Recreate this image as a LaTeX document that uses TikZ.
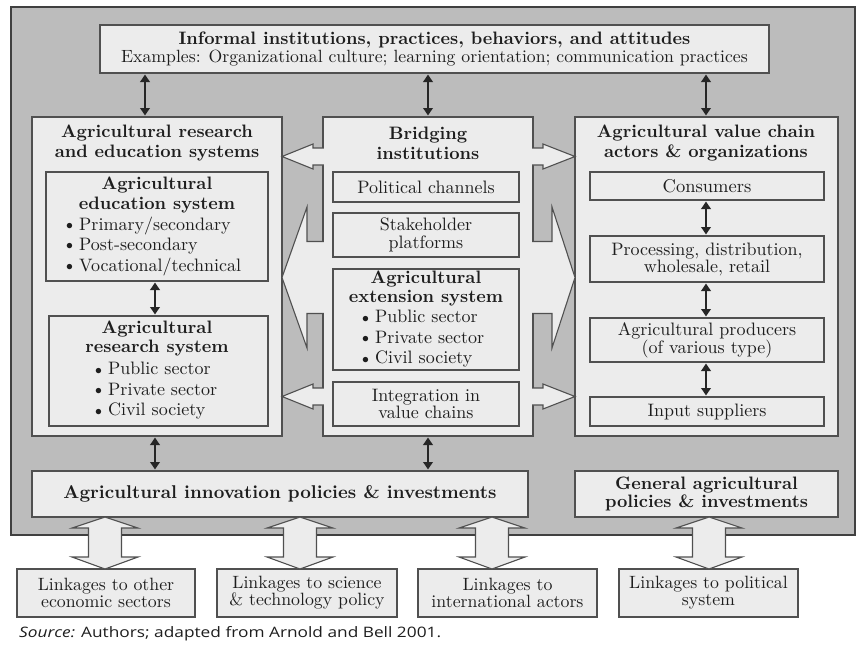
\documentclass[tikz,border=0pt]{standalone}
\usepackage{fontspec}
\setmainfont{lmroman10-regular}[Extension=.otf, BoldFont=lmroman10-bold, ItalicFont=lmroman10-italic, BoldItalicFont=lmroman10-bolditalic]
\newfontfamily\capfont{Open Sans}[FakeStretch=1.2]
\usetikzlibrary{arrows.meta,calc}
\definecolor{bgc}{HTML}{BCBCBC}
\definecolor{boxc}{HTML}{ECECEC}
\definecolor{edgec}{HTML}{505050}
\definecolor{txtc}{HTML}{1E1E1E}
\newcommand\fs[2]{\fontsize{#1}{#2}\selectfont}
\newcommand\bul{\raisebox{0.1ex}{\scalebox{0.8}{$\bullet$}}\hspace{0.35em}}
\tikzset{
  bx/.style={draw=edgec, fill=boxc, line width=1.1pt, inner sep=0pt, outer sep=0pt},
  txt/.style={inner sep=0pt, outer sep=0pt, align=center, text=txtc},
  hol/.style={draw=edgec, fill=boxc, line width=1.1pt, line join=miter},
  dbl/.style={line width=2.2pt, draw=black!85, {Triangle[length=7.5pt,width=9.5pt]}-{Triangle[length=7.5pt,width=9.5pt]}, shorten <=1.5pt, shorten >=1.5pt},
}
% plain box: name, x1, y1, x2, y2
\newcommand\abox[5]{\node[bx, anchor=north west, minimum width={#4-#2}, minimum height={#5-#3}] (#1) at (#2,#3) {};}
% box with text: name, x1, y1, x2, y2, font, text
\newcommand\tbox[7]{\node[bx, align=center, text=txtc, font=#6, minimum width={#4-#2}, minimum height={#5-#3}] (#1) at ({(#2+#4)/2},{(#3+#5)/2}) {#7};}
% left-pointing hollow arrow from M to L at height #1
\newcommand\hollowL[1]{%
  \coordinate (hs) at (M.west |- 0,#1);
  \coordinate (ht) at (L.east |- 0,#1);
  \filldraw[hol] ($(hs)+(0.8,-8.5)$) -- ($(ht)+(31,-8.5)$) -- ($(ht)+(31,-12.5)$) -- (ht) -- ($(ht)+(31,12.5)$) -- ($(ht)+(31,8.5)$) -- ($(hs)+(0.8,8.5)$);}
\newcommand\hollowR[1]{%
  \coordinate (hs) at (M.east |- 0,#1);
  \coordinate (ht) at (RC.west |- 0,#1);
  \filldraw[hol] ($(hs)+(-0.8,-8.5)$) -- ($(ht)+(-32,-8.5)$) -- ($(ht)+(-32,-12.5)$) -- (ht) -- ($(ht)+(-32,12.5)$) -- ($(ht)+(-32,8.5)$) -- ($(hs)+(-0.8,8.5)$);}
% vertical hollow double arrow: top node, bottom node, x
\newcommand\hollowV[3]{%
  \coordinate (vt) at (#1.south -| #3,0);
  \coordinate (vb) at (#2.north -| #3,0);
  \filldraw[hol] (vt) -- ($(vt)+(33,11)$) -- ($(vt)+(16.5,11)$) -- ($(vb)+(16.5,-12)$) -- ($(vb)+(33,-12)$) -- (vb) -- ($(vb)+(-33,-12)$) -- ($(vb)+(-16.5,-12)$) -- ($(vt)+(-16.5,11)$) -- ($(vt)+(-33,11)$) -- cycle;}
\begin{document}
\begin{tikzpicture}[x=1pt,y=-1pt]
\useasboundingbox (0,0) rectangle (857,645);
\fill[white] (0,0) rectangle (857,645);
\draw[fill=bgc, draw=black!75, line width=1.6pt] (11,7) rectangle (855,535);

% top box
\tbox{T}{100}{25}{769}{73}{\fs{18}{18}}{\textbf{Informal institutions, practices, behaviors, and attitudes}\\{\fs{17.7}{18}Examples: Organizational culture; learning orientation; communication practices}}

% left column
\abox{L}{32}{117}{282}{436}
\node[txt, font=\bfseries\fs{18}{20}] (Lt) at (157,143) {Agricultural research\\and education systems};
\abox{E}{46}{172}{268}{281}
\node[txt, font=\bfseries\fs{18}{20}] (Et) at (157,195) {Agricultural\\education system};
\node[txt, align=left, anchor=west, font=\fs{18}{20.5}] (Eb) at (66,246) {\bul Primary/secondary\\\bul Post-secondary\\\bul Vocational/technical};
\abox{R}{49}{316}{268}{426}
\node[txt, font=\bfseries\fs{18}{19}] (Rt) at (157,338.5) {Agricultural\\research system};
\node[txt, align=left, anchor=west, font=\fs{18}{20.5}] (Rb) at (95,391) {\bul Public sector\\\bul Private sector\\\bul Civil society};

% middle column
\abox{M}{323}{117}{533}{436}
\node[txt, font=\bfseries\fs{18}{20}] (Mt) at (428,143) {Bridging\\institutions};
\tbox{PC}{333}{172}{519}{202}{\fs{18}{17}}{Political channels}
\tbox{SP}{333}{213}{519}{257}{\fs{18}{18}}{Stakeholder\\platforms}
\abox{EX}{333}{269}{519}{370}
\node[txt, font=\bfseries\fs{18}{19}] (EXt) at (426,288.5) {Agricultural\\extension system};
\node[txt, align=left, anchor=west, font=\fs{18}{20.5}] (EXb) at (362,339) {\bul Public sector\\\bul Private sector\\\bul Civil society};
\tbox{IN}{333}{382}{519}{426}{\fs{18}{17}}{Integration in\\value chains}

% right column
\abox{RC}{575}{117}{838}{436}
\node[txt, font=\bfseries\fs{18}{20}] (RCt) at (706,143) {Agricultural value chain\\actors \& organizations};
\tbox{C1}{590}{172}{824}{200}{\fs{18.5}{17}}{Consumers}
\tbox{C2}{590}{236}{824}{282}{\fs{18}{17}}{Processing, distribution,\\wholesale, retail}
\tbox{C3}{590}{318}{824}{362}{\fs{18}{17}}{Agricultural producers\\(of various type)}
\tbox{C4}{590}{397}{824}{426}{\fs{18}{17}}{Input suppliers}

% bottom
\tbox{P}{32}{471}{528}{517}{\bfseries\fs{18.5}{18}}{Agricultural innovation policies \& investments}
\tbox{G}{575}{471}{838}{517}{\bfseries\fs{18}{18}}{General agricultural\\policies \& investments}
\tbox{K1}{17}{569}{195}{617}{\fs{17.8}{17}}{Linkages to other\\economic sectors}
\tbox{K2}{217}{569}{397}{617}{\fs{17.8}{17}}{Linkages to science\\\& technology policy}
\tbox{K3}{418}{569}{597}{617}{\fs{17.8}{17}}{Linkages to\\international actors}
\tbox{K4}{619}{569}{798}{617}{\fs{17.8}{17}}{Linkages to political\\system}

% hollow arrows between columns
\hollowL{156.5}
\hollowL{396.5}
\hollowR{156.5}
\hollowR{396.5}
% chevrons
\coordinate (cs) at (M.west |- 0,277.5);
\coordinate (ct) at (L.east |- 0,277.5);
\filldraw[hol] ($(cs)+(0.8,-36)$) -- ($(ct)+(25,-36)$) -- ($(ct)+(25,-70.5)$) -- (ct) -- ($(ct)+(25,70.5)$) -- ($(ct)+(25,36)$) -- ($(cs)+(0.8,36)$);
\coordinate (ds) at (M.east |- 0,277.5);
\coordinate (dt) at (RC.west |- 0,277.5);
\filldraw[hol] ($(ds)+(-0.8,-36)$) -- ($(dt)+(-23,-36)$) -- ($(dt)+(-23,-70.5)$) -- (dt) -- ($(dt)+(-23,70.5)$) -- ($(dt)+(-23,36)$) -- ($(ds)+(-0.8,36)$);

% vertical hollow double arrows
\hollowV{P}{K1}{105}
\hollowV{P}{K2}{300}
\hollowV{P}{K3}{492}
\hollowV{G}{K4}{709}

% black double arrows
\draw[dbl] (T.south -| 145,0) -- (L.north -| 145,0);
\draw[dbl] (T.south -| 428,0) -- (M.north -| 428,0);
\draw[dbl] (T.south -| 706,0) -- (RC.north -| 706,0);
\draw[dbl] (E.south -| 155,0) -- (R.north -| 155,0);
\draw[dbl] (L.south -| 155,0) -- (P.north -| 155,0);
\draw[dbl] (M.south -| 428,0) -- (P.north -| 428,0);
\draw[dbl] (C1.south -| 706,0) -- (C2.north -| 706,0);
\draw[dbl] (C2.south -| 706,0) -- (C3.north -| 706,0);
\draw[dbl] (C3.south -| 706,0) -- (C4.north -| 706,0);

% caption
\node[anchor=west, inner sep=0pt, text=txtc, font=\capfont\fs{14.4}{15}] (cap) at (19,634) {\textit{Source:} Authors; adapted from Arnold and Bell 2001.};
\end{tikzpicture}
\end{document}
